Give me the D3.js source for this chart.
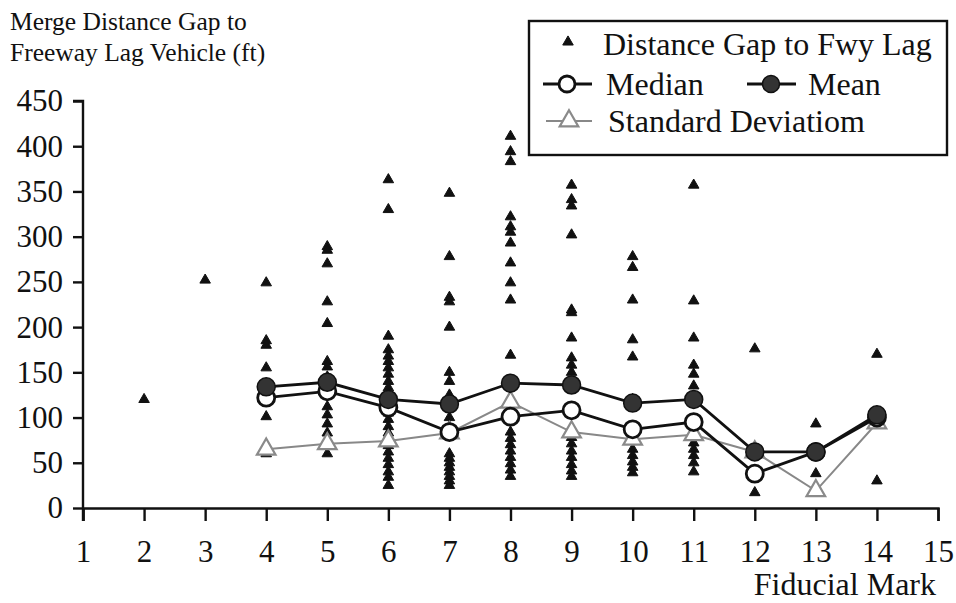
<!DOCTYPE html>
<html lang="en">
<head>
  <meta charset="UTF-8">
  <title>merge gap</title>
  <script src="https://d3js.org/d3.v7.min.js"></script>
  <style>
    body {
      margin: 0;
      padding: 0;
      background: #fff;
    }
    svg text {
      font-family: "Liberation Serif", "Times New Roman", serif;
      fill: #111;
    }
  </style>
</head>
<body>
  <div id="chart"></div>
<script>
  // fiducial marks and the raw gaps
  const marks = [4, 5, 6, 7, 8, 9, 10, 11, 12, 13, 14]
  const medianVals = [122, 129, 111, 84, 101, 108, 87, 95, 38, 62, 100]
  const meanVals = [134, 139, 120, 115, 138, 136, 116, 120, 62, 62, 103]
  const stdVals = [65, 71, 74, 83, 117, 84, 76, 81, 62, 19, 94]

  const gapMarks = [2, 3, 4, 5, 6, 7, 8, 9, 10, 11, 12, 13, 14]
  const gapVals = [
    [120],
    [252],
    [249, 185, 180, 155, 135, 120, 101, 60],
    [289, 285, 270, 228, 204, 162, 156, 145, 130, 112, 103, 93, 83, 60],
    [363, 330, 190, 175, 168, 162, 155, 148, 140, 133, 126, 119, 112, 105, 98, 90, 83, 76, 69, 62, 55, 48, 40, 34, 25],
    [348, 278, 233, 228, 200, 150, 140, 125, 100, 90, 60, 55, 50, 45, 40, 35, 30, 25],
    [411, 394, 383, 322, 311, 305, 293, 271, 249, 230, 169, 140, 84, 77, 70, 63, 56, 49, 42, 35],
    [357, 341, 334, 302, 219, 216, 188, 166, 158, 150, 78, 71, 63, 56, 48, 41, 35],
    [278, 266, 230, 186, 167, 120, 65, 58, 51, 45, 39],
    [357, 229, 188, 158, 148, 135, 72, 65, 58, 50, 40],
    [176, 17],
    [93, 38],
    [170, 30]
  ]
  const xTicks = d3.range(1, 16)
  const yTicks = d3.range(0, 451, 50)

  const width = 956, height = 603
  const svg = d3.select('#chart').append('svg')
    .attr('width', width)
    .attr('height', height)

  const x = d3.scaleLinear().domain([1, 15]).range([83, 938])
  const y = d3.scaleLinear().domain([0, 450]).range([508, 101])

  // axes
  const yAxis = svg.append('g')
    .attr('transform', `translate(${x(1)},0)`)
    .call(d3.axisLeft(y).tickValues(yTicks).tickSize(10).tickPadding(10))
  const xAxis = svg.append('g')
    .attr('transform', `translate(0,${y(0)})`)
    .call(d3.axisBottom(x).tickValues(xTicks).tickSize(13).tickPadding(8))
  ;[yAxis, xAxis].forEach(g => {
    g.select('.domain').attr('stroke', '#111').attr('stroke-width', 2.4)
    g.selectAll('.tick line').attr('stroke', '#111').attr('stroke-width', 2.4)
    g.selectAll('.tick text')
      .attr('font-size', 31)
      .attr('fill', '#111')
  })
  yAxis.selectAll('.domain').attr('d', `M-10,${y(450)}H0V${y(0) + 13}`)
  xAxis.selectAll('.tick text').attr('y', 54).attr('dy', null)

  // titles
  svg.append('text').attr('x', 10).attr('y', 30).attr('font-size', 25.5).text('Merge Distance Gap to')
  svg.append('text').attr('x', 10).attr('y', 61).attr('font-size', 25.5).text('Freeway Lag Vehicle (ft)')
  svg.append('text').attr('x', 936).attr('y', 595).attr('font-size', 32)
    .attr('text-anchor', 'end').text('Fiducial Mark')

  // raw gap points
  const pts = []
  gapMarks.forEach((m, i) => gapVals[i].forEach(v => pts.push({m, v})))
  const smallTri = d3.symbol().type(d3.symbolTriangle).size(48)
  svg.append('g').selectAll('path')
    .data(pts)
    .join('path')
    .attr('d', smallTri)
    .attr('transform', d => `translate(${x(d.m)},${y(d.v)})`)
    .attr('fill', '#111')
    .attr('stroke', '#111').attr('stroke-width', 1).attr('stroke-linejoin', 'round')

  const lineOf = vals => d3.line()
    .x((d, i) => x(marks[i]))
    .y(d => y(d))(vals)

  // std dev
  svg.append('path').attr('d', lineOf(stdVals))
    .attr('fill', 'none').attr('stroke', '#888').attr('stroke-width', 2)
  const bigTri = d3.symbol().type(d3.symbolTriangle).size(150)
  svg.append('g').selectAll('path')
    .data(stdVals)
    .join('path')
    .attr('d', bigTri)
    .attr('transform', (d, i) => `translate(${x(marks[i])},${y(d)})`)
    .attr('fill', '#fff').attr('stroke', '#8a8a8a').attr('stroke-width', 2.2)

  // median
  svg.append('path').attr('d', lineOf(medianVals))
    .attr('fill', 'none').attr('stroke', '#111').attr('stroke-width', 2.8)
  svg.append('g').selectAll('circle')
    .data(medianVals)
    .join('circle')
    .attr('cx', (d, i) => x(marks[i]))
    .attr('cy', d => y(d))
    .attr('r', 8.5)
    .attr('fill', '#fff').attr('stroke', '#111').attr('stroke-width', 2.8)

  // mean
  svg.append('path').attr('d', lineOf(meanVals))
    .attr('fill', 'none').attr('stroke', '#111').attr('stroke-width', 2.8)
  svg.append('g').selectAll('circle')
    .data(meanVals)
    .join('circle')
    .attr('cx', (d, i) => x(marks[i]))
    .attr('cy', d => y(d))
    .attr('r', 9)
    .attr('fill', '#333').attr('stroke', '#111').attr('stroke-width', 1.5)

  // legend
  const lg = svg.append('g')
  lg.append('rect').attr('x', 529).attr('y', 21).attr('width', 418).attr('height', 134)
    .attr('fill', '#fff').attr('stroke', '#111').attr('stroke-width', 2.4)
  lg.append('path').attr('d', smallTri).attr('transform', 'translate(568,42)')
    .attr('fill', '#111').attr('stroke', '#111').attr('stroke-width', 1).attr('stroke-linejoin', 'round')
  lg.append('text').attr('x', 603).attr('y', 55).attr('font-size', 32).text('Distance Gap to Fwy Lag')

  lg.append('line').attr('x1', 543).attr('x2', 592).attr('y1', 84).attr('y2', 84)
    .attr('stroke', '#111').attr('stroke-width', 2.8)
  lg.append('circle').attr('cx', 567).attr('cy', 84).attr('r', 8)
    .attr('fill', '#fff').attr('stroke', '#111').attr('stroke-width', 2.8)
  lg.append('text').attr('x', 606).attr('y', 95).attr('font-size', 32).text('Median')

  lg.append('line').attr('x1', 747).attr('x2', 796).attr('y1', 84).attr('y2', 84)
    .attr('stroke', '#111').attr('stroke-width', 2.8)
  lg.append('circle').attr('cx', 771).attr('cy', 84).attr('r', 8.5)
    .attr('fill', '#333').attr('stroke', '#111').attr('stroke-width', 1.5)
  lg.append('text').attr('x', 808).attr('y', 95).attr('font-size', 32).text('Mean')

  lg.append('line').attr('x1', 546).attr('x2', 592).attr('y1', 121).attr('y2', 121)
    .attr('stroke', '#888').attr('stroke-width', 2)
  lg.append('path').attr('d', bigTri).attr('transform', 'translate(569,121)')
    .attr('fill', '#fff').attr('stroke', '#8a8a8a').attr('stroke-width', 2.2)
  lg.append('text').attr('x', 608).attr('y', 132).attr('font-size', 32).text('Standard Deviatiom')
</script>
</body>
</html>
